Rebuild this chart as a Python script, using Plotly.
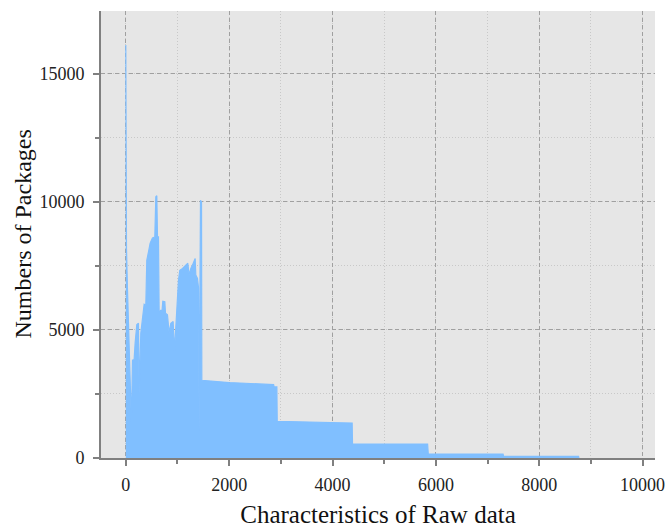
import plotly.graph_objects as go

# Characteristic index (x) and number of packages (y)
chars = [0, 13, 32, 52, 64, 84, 109, 129, 161, 180, 213, 245, 258, 290, 322, 355, 387,
         406, 439, 471, 516, 561, 581, 600, 613, 632, 645, 677, 697, 716, 755, 768,
         806, 839, 871, 916, 942, 981, 1019, 1045, 1097, 1161, 1200, 1226, 1258, 1290,
         1342, 1355, 1387, 1406, 1419, 1445, 1465, 1471,
         2000, 2860, 2870, 2923, 2930,
         4380, 4387, 5840, 5853, 7300, 7311, 8760, 8763, 8770]
packages = [16120, 8190, 6620, 5100, 4870, 2910, 1350, 3820, 3840, 4480, 5210, 5260, 2530,
            4870, 5500, 6000, 5960, 7720, 8050, 8390, 8590, 8630, 10200, 10240, 8630,
            8630, 5650, 5780, 5650, 6120, 6100, 5650, 5590, 4880, 5260, 5330, 4200, 5900,
            6940, 7330, 7400, 7530, 7600, 7140, 7400, 7530, 7790, 7140, 7010, 6660, 1080,
            10060, 10000, 3035,
            2945, 2867, 2773, 2773, 1433,
            1367, 547, 547, 156, 156, 66, 66, 0, 0]

x_ticks = [0, 2000, 4000, 6000, 8000, 10000]
x_labels = ["0", "2000", "4000", "6000", "8000", "10000"]
y_ticks = [0, 5000, 10000, 15000]
y_labels = ["0", "5000", "10000", "15000"]

fill_col = "#80bfff"
font_family = "Liberation Serif, Times New Roman, serif"

fig = go.Figure()
fig.add_trace(go.Scatter(
    x=chars, y=packages, mode="lines", fill="tozeroy",
    line=dict(color=fill_col, width=1.2), fillcolor=fill_col,
    showlegend=False, hoverinfo="skip"))

axis_common = dict(
    showline=True, linecolor="#808080", linewidth=2,
    ticks="outside", ticklen=6, tickwidth=1.5, tickcolor="#808080",
    showgrid=True, gridcolor="#a0a0a0", gridwidth=1, griddash="4px,3px",
    zeroline=False, mirror=False, automargin=False,
    tickfont=dict(family=font_family, size=18, color="#222222"),
)

fig.update_xaxes(
    range=[-480, 10240], tickvals=x_ticks, ticktext=x_labels, ticklabelstandoff=3,
    minor=dict(dtick=1000, tick0=0, ticks="outside", ticklen=4, tickcolor="#808080",
               showgrid=True, gridcolor="#c8c8c8", griddash="1px,2px", gridwidth=1),
    title=dict(text="Characteristics of Raw data",
               font=dict(family=font_family, size=25, color="#111111"), standoff=14),
    **axis_common)
fig.update_yaxes(
    range=[0, 17450], tickvals=y_ticks, ticktext=y_labels, ticklabelstandoff=5,
    minor=dict(dtick=2500, tick0=0, ticks="outside", ticklen=4, tickcolor="#808080",
               showgrid=True, gridcolor="#c8c8c8", griddash="1px,2px", gridwidth=1),
    **axis_common)

fig.add_annotation(
    text="Numbers of Packages", xref="paper", yref="paper", x=0, y=0.5,
    xanchor="center", yanchor="middle", xshift=-79, textangle=-90, showarrow=False,
    font=dict(family=font_family, size=24, color="#111111"))

fig.update_layout(
    width=668, height=528,
    margin=dict(l=101, r=13, t=11, b=70),
    paper_bgcolor="white", plot_bgcolor="#e6e6e6",
)

fig.write_html("out.html", config={"displayModeBar": False},
               post_script="document.body.style.margin='0';")
